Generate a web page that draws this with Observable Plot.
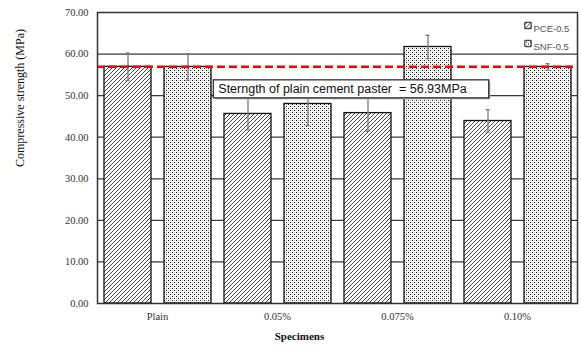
<!DOCTYPE html>
<html><head><meta charset="utf-8">
<script src="https://cdn.jsdelivr.net/npm/d3@7"></script>
<script src="https://cdn.jsdelivr.net/npm/@observablehq/plot@0.6"></script>
<style>body{margin:0;background:#fff}</style>
</head><body><div id="chart"></div>
<script>
const specimens = ["Plain", "0.05%", "0.075%", "0.10%"];
const series = ["PCE-0.5", "SNF-0.5"];
const pceValues = [56.93, 45.6, 45.8, 43.9];
const snfValues = [56.9, 48.0, 61.7, 56.9];
const pceErrors = [3.3, 3.8, 4.4, 2.7];
const snfErrors = [3.2, 5.2, 2.8, 0.8];
const yTicks = [0, 10, 20, 30, 40, 50, 60, 70];
const plainStrength = 56.93;
const annotation = "Sterngth of plain cement paster  = 56.93MPa";
const yLabel = "Compressive strength (MPa)";
const xLabel = "Specimens";
const patternIds = ["pce-hatch", "snf-dots"];

const data = specimens.flatMap((s, i) => [
  {specimen: s, series: series[0], value: pceValues[i], err: pceErrors[i]},
  {specimen: s, series: series[1], value: snfValues[i], err: snfErrors[i]}
]);

const serif = "'Liberation Serif','Times New Roman',serif";
const sans = "'Liberation Sans',Arial,sans-serif";

const legendMarks = series.flatMap((s, i) => [
  Plot.dot([s], {fx: [specimens[3]], frameAnchor: "top-right", dx: -49.5, dy: 13 + i * 18,
    symbol: "square", r: 3.6, fill: `url(#${patternIds[i]})`, stroke: "#222", strokeWidth: 1}),
  Plot.text([s], {fx: [specimens[3]], frameAnchor: "top-right", textAnchor: "start",
    dx: -44, dy: 13 + i * 18, text: d => d, fontFamily: sans, fontSize: 9.5, fill: "#555"})
]);

const chart = Plot.plot({
  width: 581, height: 351,
  marginLeft: 97, marginRight: 4, marginTop: 12, marginBottom: 48,
  style: {fontFamily: serif, fontSize: "10.5px", color: "#333", background: "#fff"},
  fx: {domain: specimens, padding: 0, label: null, axis: "bottom", tickSize: 0, tickPadding: 9},
  x: {domain: series, paddingInner: 0.2167, paddingOuter: 0.1083, axis: null},
  y: {domain: [0, 70], ticks: yTicks, tickFormat: d3.format(".2f"), tickSize: 0, tickPadding: 9, label: null},
  color: {domain: series, range: patternIds.map(id => `url(#${id})`)},
  marks: [
    Plot.ruleY(yTicks.slice(1, -1), {stroke: "#3a3a3a", strokeWidth: 1.2}),
    Plot.barY(data, {fx: "specimen", x: "series", y: "value", fill: "series", stroke: "#111", strokeWidth: 1.3}),
    Plot.ruleX(data, {fx: "specimen", x: "series", y1: d => d.value - d.err, y2: d => d.value + d.err, stroke: "#7a7a7a", strokeWidth: 1.3}),
    Plot.tickY(data, {fx: "specimen", x: "series", y: d => d.value + d.err, stroke: "#7a7a7a", strokeWidth: 1.3, insetLeft: 21.5, insetRight: 21.5}),
    Plot.tickY(data, {fx: "specimen", x: "series", y: d => d.value - d.err, stroke: "#7a7a7a", strokeWidth: 1.3, insetLeft: 21.5, insetRight: 21.5}),
    Plot.ruleY([plainStrength], {stroke: "#ff0000", strokeWidth: 2.5, strokeDasharray: "8,4"}),
    Plot.text([annotation], {fx: [specimens[2]], y: [plainStrength], text: d => d, dx: -55, dy: 22,
      fontFamily: sans, fontSize: 12.5, fill: "#111"}),
    ...legendMarks,
    Plot.text([yLabel], {fx: [specimens[0]], frameAnchor: "left", rotate: -90, dx: -77, dy: 9,
      text: d => d, fontFamily: serif, fontSize: 12, fill: "#111"}),
    Plot.text([xLabel], {fx: [specimens[1]], frameAnchor: "bottom", dx: 22, dy: 36,
      text: d => d, fontFamily: serif, fontSize: 11, fontWeight: "bold", fill: "#111"}),
    Plot.frame({facet: "super", stroke: "#333", strokeWidth: 1.5})
  ]
});

document.getElementById("chart").appendChild(chart);

const ns = "http://www.w3.org/2000/svg";
const defs = document.createElementNS(ns, "defs");
defs.innerHTML = `
<pattern id="pce-hatch" patternUnits="userSpaceOnUse" width="4" height="4">
  <rect width="4" height="4" fill="#fff"/>
  <path d="M-1,1 l2,-2 M0,4 l4,-4 M3,5 l2,-2" stroke="#222" stroke-width="0.85"/>
</pattern>
<pattern id="snf-dots" patternUnits="userSpaceOnUse" width="4" height="4">
  <rect width="4" height="4" fill="#fff"/>
  <rect x="0" y="0" width="1" height="1" fill="#111"/>
  <rect x="2" y="2" width="1" height="1" fill="#111"/>
  <rect x="2" y="0" width="1" height="1" fill="#c8c8c8"/>
  <rect x="0" y="2" width="1" height="1" fill="#c8c8c8"/>
</pattern>`;
chart.insertBefore(defs, chart.firstChild);

// box behind annotation
const annText = Array.from(chart.querySelectorAll("text")).find(t => t.textContent.startsWith("Sterngth"));
if (annText) {
  annText.setAttribute("style", "white-space:pre");
  const bb = annText.getBBox();
  const shadow = document.createElementNS(ns, "rect");
  const rect = document.createElementNS(ns, "rect");
  const tr = annText.getAttribute("transform");
  for (const [r, off, fill, stroke] of [[shadow, 1.5, "#aaa", "none"], [rect, 0, "#fff", "#222"]]) {
    r.setAttribute("x", bb.x - 5 + off);
    r.setAttribute("y", bb.y - 2 + off);
    r.setAttribute("width", bb.width + 27);
    r.setAttribute("height", bb.height + 4);
    r.setAttribute("fill", fill);
    r.setAttribute("stroke", stroke);
    r.setAttribute("stroke-width", 1.2);
    if (tr) r.setAttribute("transform", tr);
    annText.parentNode.insertBefore(r, annText);
  }
}
</script>
</body></html>
